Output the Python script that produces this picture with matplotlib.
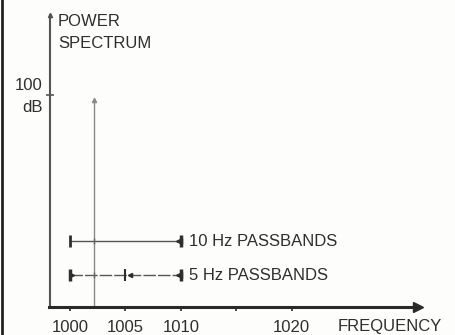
import matplotlib.pyplot as plt
from matplotlib.lines import Line2D

# data
freq_ticks = [1000, 1005, 1010, 1015, 1020]
freq_labels = ['1000', '1005', '1010', '', '1020']
line_freq = 1002.2
line_level = 98
band10_edges = [1000, 1010]
band10_level = 31
band5_edges = [1000, 1005, 1010]
band5_level = 15
db_tick = 100

plt.rcParams['font.family'] = ['Liberation Sans', 'DejaVu Sans']
ink = '#2e2e2e'
bg = '#fdfdfb'
fs = 12

fig = plt.figure(figsize=(4.55, 3.35), dpi=100, facecolor=bg)
ax = fig.add_axes([49.5 / 455, 28 / 335, 368.5 / 455, 292 / 335])
ax.set_facecolor(bg)
ax.set_xlim(998.15, 1031.4)
ax.set_ylim(0, 138)

for s in ['top', 'right']:
    ax.spines[s].set_visible(False)
ax.spines['left'].set_color('#555555')
ax.spines['left'].set_linewidth(1.5)
ax.spines['bottom'].set_color('#2a2a2a')
ax.spines['bottom'].set_linewidth(2.2)

# arrow heads on axes
ax.plot(1, 0, '>', color='#2a2a2a', ms=7, transform=ax.transAxes, clip_on=False)
ax.plot(0, 1, '^', color='#555555', ms=3, transform=ax.transAxes, clip_on=False)

ax.set_xticks(freq_ticks)
ax.set_xticklabels(freq_labels, fontsize=fs, color=ink)
ax.tick_params(axis='x', direction='out', length=3, width=1.2, color='#2a2a2a', pad=6.5)
ax.set_yticks([db_tick])
ax.set_yticklabels([])
ax.tick_params(axis='y', direction='inout', length=6, width=1.2, color='#555555')

# spectral line
ax.plot([line_freq, line_freq], [0, line_level], color='#8a8a8a', lw=1)
ax.plot(line_freq, line_level, '^', color='#8a8a8a', ms=3)

# 10 Hz passband
ax.plot(band10_edges, [band10_level] * 2, color='#555555', lw=1)
ax.plot(band10_edges[0], band10_level, '|', color=ink, ms=8, mew=2)
ax.plot(line_freq, band10_level, '|', color='#666666', ms=4, mew=1)
ax.plot(band10_edges[1] - 0.2, band10_level, '<', color=ink, ms=4)
ax.plot(band10_edges[1], band10_level, '|', color=ink, ms=9, mew=2.5)

# 5 Hz passbands
ax.plot(band5_edges, [band5_level] * 3, color='#555555', lw=1, dashes=(9, 1.5))
ax.plot(band5_edges[0], band5_level, '|', color=ink, ms=9, mew=2.5)
ax.plot(band5_edges[0] + 0.2, band5_level, '>', color=ink, ms=3)
ax.plot(line_freq, band5_level, '|', color='#666666', ms=4, mew=1)
ax.plot(band5_edges[1], band5_level, '|', color=ink, ms=8, mew=1.5)
ax.plot(band5_edges[1] + 0.4, band5_level, '<', color=ink, ms=3)
ax.plot(band5_edges[2] - 0.2, band5_level, '<', color=ink, ms=4)
ax.plot(band5_edges[2], band5_level, '|', color=ink, ms=9, mew=2.5)

ax.text(1010.7, band10_level, '10 Hz PASSBANDS', fontsize=fs, color=ink, va='center')
ax.text(1010.7, band5_level, '5 Hz PASSBANDS', fontsize=fs, color=ink, va='center')

# axis titles
fig.text(58 / 455, 1 - 21 / 335, 'POWER', fontsize=fs, color=ink, va='center')
fig.text(58 / 455, 1 - 43 / 335, 'SPECTRUM', fontsize=fs, color=ink, va='center')
fig.text(43 / 455, 1 - 85 / 335, '100', fontsize=fs, color=ink, va='center', ha='right')
fig.text(43 / 455, 1 - 108 / 335, 'dB', fontsize=fs, color=ink, va='center', ha='right')
fig.text(442 / 455, 1 - 327 / 335, 'FREQUENCY', fontsize=fs, color=ink, va='center', ha='right')

# scan edge on the left
fig.add_artist(Line2D([2 / 455, 2 / 455], [0, 1], color='#222222', lw=2))

fig.savefig('out.png', dpi=100, facecolor=bg)
